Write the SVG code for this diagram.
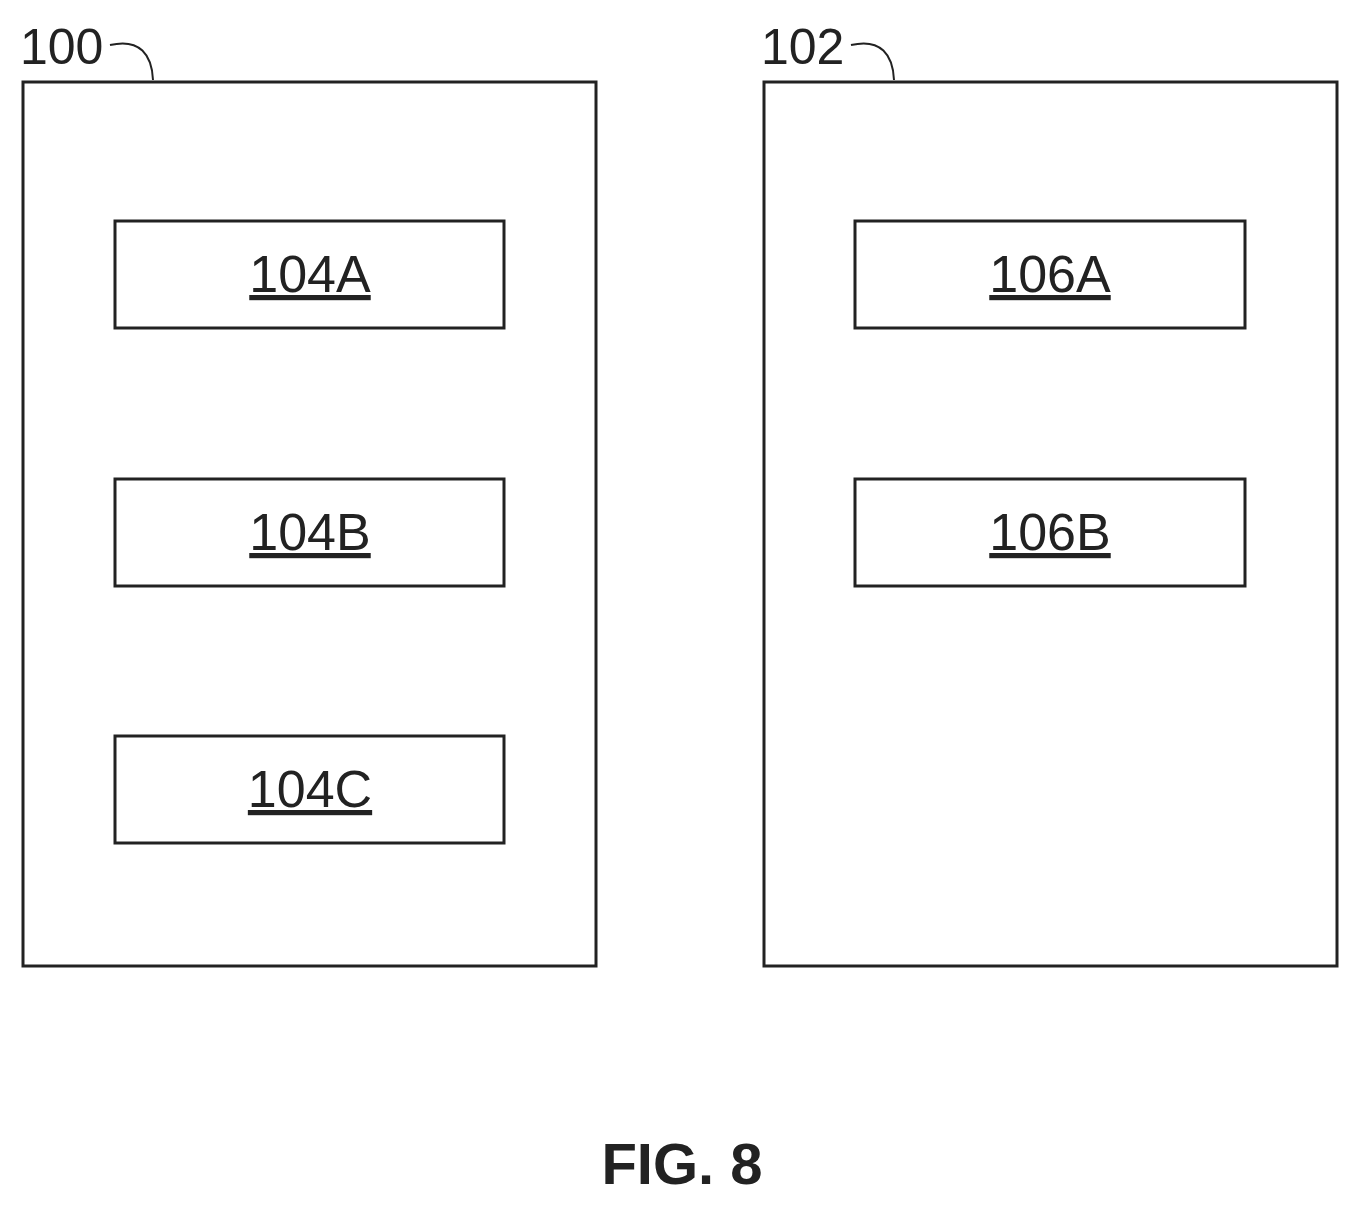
<svg xmlns="http://www.w3.org/2000/svg" width="1360" height="1207" viewBox="0 0 1360 1207">
<style>
.box{fill:#fff;stroke:#222;stroke-width:3}
.lbl{font-family:"Liberation Sans",Arial,sans-serif;font-size:52px;fill:#222;text-anchor:middle;text-decoration:underline}
.ref{font-family:"Liberation Sans",Arial,sans-serif;font-size:50px;fill:#222}
.lead{fill:none;stroke:#222;stroke-width:2}
</style>
<rect width="1360" height="1207" fill="#fff"/>
<g id="n100"><rect class="box" x="23" y="82" width="573" height="884"/><text class="ref" x="20" y="64">100</text></g>
<g id="n102"><rect class="box" x="764" y="82" width="573" height="884"/><text class="ref" x="761" y="64">102</text></g>
<g id="connectors">
<path class="lead" d="M110,45 C140,38 152,55 153,80"/>
<path class="lead" d="M851,45 C881,38 893,55 894,80"/>
</g>
<g id="n104A"><rect class="box" x="115" y="221" width="389" height="107"/><text class="lbl" x="310" y="292">104A</text></g>
<g id="n104B"><rect class="box" x="115" y="479" width="389" height="107"/><text class="lbl" x="310" y="550">104B</text></g>
<g id="n104C"><rect class="box" x="115" y="736" width="389" height="107"/><text class="lbl" x="310" y="807">104C</text></g>
<g id="n106A"><rect class="box" x="855" y="221" width="390" height="107"/><text class="lbl" x="1050" y="292">106A</text></g>
<g id="n106B"><rect class="box" x="855" y="479" width="390" height="107"/><text class="lbl" x="1050" y="550">106B</text></g>
<text x="682" y="1184" font-family="Liberation Sans,Arial,sans-serif" font-weight="bold" font-size="58" fill="#222" text-anchor="middle">FIG. 8</text>
</svg>
